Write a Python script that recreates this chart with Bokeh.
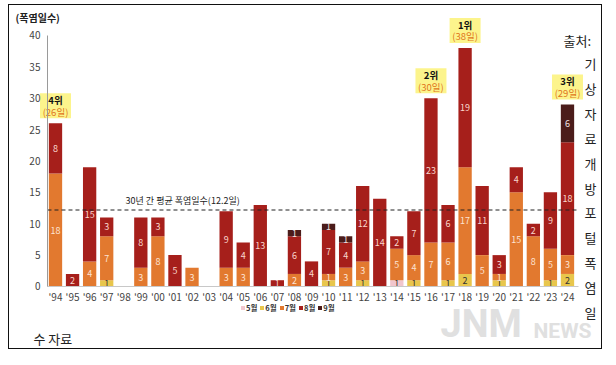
from bokeh.plotting import figure
from bokeh.models import ColumnDataSource, Range1d, FixedTicker, Legend, LegendItem, Label
from bokeh.core.properties import value
from bokeh.embed import file_html
from bokeh.resources import INLINE

# ---- data ----
years = ["'94", "'95", "'96", "'97", "'98", "'99", "'00", "'01", "'02", "'03", "'04",
         "'05", "'06", "'07", "'08", "'09", "'10", "'11", "'12", "'13", "'14", "'15",
         "'16", "'17", "'18", "'19", "'20", "'21", "'22", "'23", "'24"]
may = [0, 0, 0, 0, 0, 0, 0, 0, 0, 0, 0, 0, 0, 0, 0, 0, 0, 0, 0, 0, 1, 0, 0, 0, 0, 0, 0, 0, 0, 0, 0]
jun = [0, 0, 0, 1, 0, 0, 0, 0, 0, 0, 0, 0, 0, 0, 0, 0, 1, 0, 1, 0, 0, 1, 0, 1, 2, 0, 1, 0, 0, 1, 2]
jul = [18, 0, 4, 7, 0, 3, 8, 0, 3, 0, 3, 3, 0, 0, 2, 0, 1, 3, 3, 0, 5, 4, 7, 6, 17, 5, 1, 15, 8, 5, 3]
aug = [8, 2, 15, 3, 0, 8, 3, 5, 0, 0, 9, 4, 13, 1, 6, 4, 7, 4, 12, 14, 2, 7, 23, 6, 19, 11, 3, 4, 2, 9, 18]
sep = [0, 0, 0, 0, 0, 0, 0, 0, 0, 0, 0, 0, 0, 0, 1, 0, 1, 1, 0, 0, 0, 0, 0, 0, 0, 0, 0, 0, 0, 0, 6]
months = ["5월", "6월", "7월", "8월", "9월"]
avg_days = 12.2
avg_label = "30년 간 평균 폭염일수(12.2일)"
rank_years = ["'18", "'16", "'24", "'94"]
rank_names = ["1위", "2위", "3위", "4위"]
y_ticks = [0, 5, 10, 15, 20, 25, 30, 35, 40]
y_title = "(폭염일수)"
source_first = "출처:"
source_chars = ["기", "상", "자", "료", "개", "방", "포", "털", "폭", "염", "일"]
source_tail = "수 자료"

colors = ["#f1c6cd", "#e8c64c", "#e2792f", "#a61f1b", "#4b1c1a"]
label_colors = ["#333333", "#333333", "#fde3d3", "#f9d6cc", "#f2e2e2"]
FONT = "Noto Sans CJK KR"

series = [may, jun, jul, aug, sep]
n = len(years)
xs = list(range(n))
totals = [sum(s[i] for s in series) for i in range(n)]

data = dict(x=xs)
for m, s in zip(months, series):
    data[m] = s
src = ColumnDataSource(data)

W, H = 594, 345
X0, X1 = -2.695, 32.11
Y0, Y1 = -10.20, 44.78
AX_LEFT = -0.47
AX_RIGHT = n - 1 + 0.64

p = figure(width=W, height=H, output_backend="svg", toolbar_location=None,
           x_range=Range1d(X0, X1), y_range=Range1d(Y0, Y1),
           min_border_left=0, min_border_right=0, min_border_top=0, min_border_bottom=0,
           outline_line_color=None, background_fill_color="white", border_fill_color="white")
p.styles = {"border": "1px solid #111", "margin-left": "8px", "margin-top": "4px"}
p.xgrid.visible = False
p.ygrid.visible = False

rs = p.vbar_stack(months, x="x", width=0.78, source=src, color=colors, line_color=None)

# segment labels
tx, ty, tt, tc = [], [], [], []
for i in range(n):
    base = 0
    for k, s in enumerate(series):
        v = s[i]
        if v > 0:
            tx.append(i)
            ty.append(base + v / 2)
            tt.append(str(v))
            tc.append(label_colors[k])
        base += v
p.text(x=tx, y=ty, text=tt, text_color=tc, text_align="center", text_baseline="middle",
       text_font=value(FONT), text_font_size="9px")

# average line
p.segment(x0=[AX_LEFT], x1=[AX_RIGHT], y0=[avg_days], y1=[avg_days],
          line_color="#222222", line_dash="4 3", line_width=1.1)
p.text(x=[7.45], y=[avg_days + 0.4], text=[avg_label], text_align="center",
       text_baseline="bottom", text_font=value(FONT), text_font_size="9px", text_color="#222222")

# rank boxes
rx = [years.index(y) for y in rank_years]
rt = [totals[i] for i in rx]
p.rect(x=rx, y=[t + 2.8 for t in rt], width=31, height=25, width_units="screen",
       height_units="screen", fill_color="#fcf48c", line_color=None)
p.text(x=rx, y=[t + 3.75 for t in rt], text=rank_names, text_align="center",
       text_baseline="middle", text_font=value(FONT), text_font_size="9.5px",
       text_font_style="bold", text_color="#111111")
p.text(x=rx, y=[t + 1.85 for t in rt], text=[f"({t}일)" for t in rt], text_align="center",
       text_baseline="middle", text_font=value(FONT), text_font_size="9.5px",
       text_color="#e0761c")

# axes placed at fixed positions inside the frame
for ax in (p.xaxis[0], p.yaxis[0]):
    ax.major_tick_out = 0
    ax.major_tick_in = 0
    ax.minor_tick_out = 0
    ax.minor_tick_in = 0
    ax.major_tick_line_color = None
    ax.minor_tick_line_color = None
    ax.major_label_text_font = FONT
    ax.major_label_text_font_size = "10px"
    ax.major_label_text_color = "#444444"

p.yaxis.fixed_location = AX_LEFT
p.yaxis.ticker = FixedTicker(ticks=y_ticks)
p.yaxis.bounds = (0, 40)
p.yaxis.axis_line_color = "#9a9a9a"
p.yaxis.major_label_standoff = 7

p.xaxis.fixed_location = 0
p.xaxis.ticker = FixedTicker(ticks=xs)
p.xaxis.major_label_overrides = {i: y for i, y in enumerate(years)}
p.xaxis.bounds = (AX_LEFT, AX_RIGHT)
p.xaxis.axis_line_color = "#c8c8c8"
p.xaxis.major_label_standoff = 3

# legend
legend = Legend(items=[LegendItem(label=value(m), renderers=[r]) for m, r in zip(months, rs)],
                orientation="horizontal", location=(231, 37),
                glyph_width=5, glyph_height=5, label_standoff=1, spacing=2, padding=0,
                margin=0, border_line_color=None, background_fill_alpha=0,
                label_text_font=FONT, label_text_font_size="7.5px", label_width=0,
                label_text_font_style="bold", label_text_color="#333333",
                label_height=9)
p.add_layout(legend)

def add_label(text, img_x, img_y, size, style="normal", color="#222222", align="left", font=FONT):
    p.add_layout(Label(x=img_x - 9, y=350 - img_y, x_units="screen", y_units="screen",
                       text=text, text_font=font, text_font_size=size, text_font_style=style,
                       text_color=color, text_align=align, text_baseline="middle"))

add_label(y_title, 15, 17, "10px", style="bold", color="#222222")
add_label(source_first, 563, 40, "13px", color="#222222")
for k, ch in enumerate(source_chars):
    add_label(ch, 590, 63 + 24.9 * k, "13px", color="#222222", align="center")
add_label(source_tail, 33, 338, "13px", color="#222222")
# watermark
add_label("JNM", 440, 323, "38px", style="bold", color="#e0e0e0", font="Roboto")
add_label("NEWS", 533, 330, "21px", style="bold", color="#e0e0e0", font="Roboto")

open("out.html", "w").write(file_html(p, INLINE))
